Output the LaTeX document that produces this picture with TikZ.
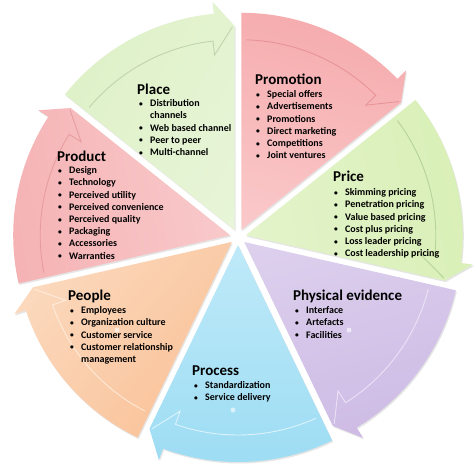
\documentclass[tikz,border=0pt]{standalone}
\usepackage{fontspec}
\setmainfont{Carlito}
\usetikzlibrary{calc}
\definecolor{prL}{HTML}{FDDADA}\definecolor{prD}{HTML}{F39C9F}\definecolor{prE}{HTML}{E48A8D}
\definecolor{piL}{HTML}{EAF6D6}\definecolor{piD}{HTML}{D3EDAC}\definecolor{piE}{HTML}{A9C98E}
\definecolor{phL}{HTML}{E8DFF3}\definecolor{phD}{HTML}{C6B1E1}\definecolor{phE}{HTML}{F3EEFA}
\definecolor{pcL}{HTML}{D2F1FB}\definecolor{pcD}{HTML}{8AD5F1}\definecolor{pcE}{HTML}{F0FBFF}
\definecolor{peL}{HTML}{FDE7D4}\definecolor{peD}{HTML}{F8B482}\definecolor{peE}{HTML}{FFF3E8}
\definecolor{pdL}{HTML}{FBD7D8}\definecolor{pdD}{HTML}{F3A6A8}\definecolor{pdE}{HTML}{E39497}
\definecolor{plL}{HTML}{EEF8E3}\definecolor{plD}{HTML}{DAEFC0}\definecolor{plE}{HTML}{B3CBA2}
\def\R{217}\def\Rb{229}\def\Rt{204}
\newcommand\blt{\makebox[12pt][l]{\hspace{0.8pt}\raisebox{0.4pt}{\fontsize{7.5}{7.5}\selectfont\textbullet}}}
\newcommand\ind{\hspace*{12pt}}
\newcommand\mkseg[5]{%
  \pgfmathsetmacro\sa{#1}%
  \pgfmathsetmacro\ea{#1-360/7}%
  \pgfmathsetmacro\ma{#1-180/7}%
  \pgfmathsetmacro\ha{\ea+5.5}%
  \pgfmathsetmacro\shang{#4-90}%
  \pgfmathsetmacro\sb{\sa-1.5}%
  \pgfmathsetmacro\hb{\ha+1}%
  \pgfmathsetmacro\eb{\ea+0.6}%
  \begin{scope}[shift={(C)},shift={(\ma:8)}]
    \fill[black,opacity=0.10,shift={(1,-1.5)}] (0,0) -- (\sa:\R) arc[start angle=\sa,end angle=\ha,radius=\R] -- (\ha:\Rb) -- (\ea:\Rt) -- cycle;
    \begin{scope}
      \clip (0,0) -- (\sa:\R) arc[start angle=\sa,end angle=\ha,radius=\R] -- (\ha:\Rb) -- (\ea:\Rt) -- cycle;
      \shade[top color=#3,bottom color=#2,shading angle=\shang] (\ma:110) circle (235);
    \end{scope}
    \draw[#5,line width=0.9,opacity=0.75] (\sb:190) arc[start angle=\sb,end angle=\hb,radius=190] -- (\hb:176) -- (\eb:203);
  \end{scope}}
\begin{document}
\begin{tikzpicture}[x=1pt,y=1pt,
  hd/.style={font=\fontsize{15}{17}\selectfont\bfseries, inner sep=0, anchor=base west},
  lst/.style={font=\fontsize{10}{12.2}\selectfont\bfseries, inner sep=0, anchor=north west, align=left, yshift=8.54pt},
  glint/.style={white, opacity=0.6}]
\useasboundingbox (0,0) rectangle (474,467);
\fill[white] (0,0) rectangle (474,467);
\coordinate (C) at (238,230);
% segments: start angle, light, dark, dark direction, line colour
\mkseg{90}{prL}{prD}{75}{prE}
\mkseg{90-360/7}{piL}{piD}{10}{piE}
\mkseg{90-720/7}{phL}{phD}{-75}{phE}
\mkseg{90-1080/7}{pcL}{pcD}{-90}{pcE}
\mkseg{90-1440/7}{peL}{peD}{-40}{peE}
\mkseg{90-1800/7}{pdL}{pdD}{190}{pdE}
\mkseg{90-2160/7}{plL}{plD}{150}{plE}
\fill[glint] (233,57) circle (2.5);
\fill[glint] (117,137) circle (2.5);
\fill[glint] (349,137) circle (2.5);
% texts
\node[hd] (hplace) at (137,372) {Place};
\node[lst] (lplace) at (138,360.5) {\strut\blt Distribution\\\ind channels\\\blt Web based channel\\\blt Peer to peer\\\blt Multi-channel};
\node[hd] (hprom) at (255,382) {Promotion};
\node[lst] (lprom) at (255,369.5) {\strut\blt Special offers\\\blt Advertisements\\\blt Promotions\\\blt Direct marketing\\\blt Competitions\\\blt Joint ventures};
\node[hd] (hprice) at (333,286) {Price};
\node[lst] (lprice) at (333,271.5) {\strut\blt Skimming pricing\\\blt Penetration pricing\\\blt Value based pricing\\\blt Cost plus pricing\\\blt Loss leader pricing\\\blt Cost leadership pricing};
\node[hd] (hphys) at (293,167) {Physical evidence};
\node[lst] (lphys) at (294,153.5) {\strut\blt Interface\\\blt Artefacts\\\blt Facilities};
\node[hd] (hproc) at (192,92) {Process};
\node[lst] (lproc) at (193,78.5) {\strut\blt Standardization\\\blt Service delivery};
\node[hd] (hpeople) at (68,167) {People};
\node[lst] (lpeople) at (69,153.5) {\strut\blt Employees\\\blt Organization culture\\\blt Customer service\\\blt Customer relationship\\\ind management};
\node[hd] (hprod) at (57,306) {Product};
\node[lst] (lprod) at (57,293.5) {\strut\blt Design\\\blt Technology\\\blt Perceived utility\\\blt Perceived convenience\\\blt Perceived quality\\\blt Packaging\\\blt Accessories\\\blt Warranties};
\end{tikzpicture}
\end{document}
